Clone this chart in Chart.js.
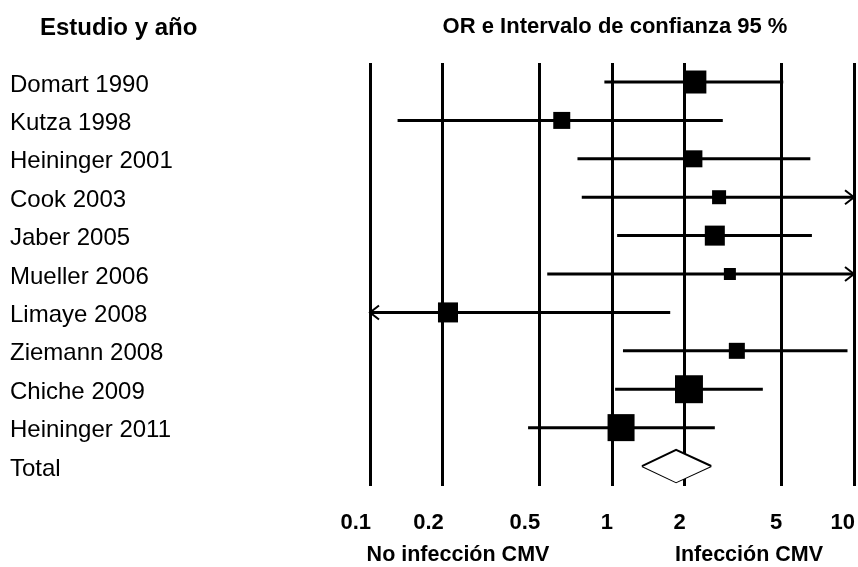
<!DOCTYPE html>
<html>
<head>
<meta charset="utf-8">
<script src="https://cdn.jsdelivr.net/npm/chart.js"></script>
<style>
	html, body { margin: 0; padding: 0; background: #ffffff; }
</style>
</head>
<body>
<canvas id="forestChart" width="858" height="567"></canvas>
<script>

var studies = ['Domart 1990', 'Kutza 1998', 'Heininger 2001', 'Cook 2003', 'Jaber 2005',
	'Mueller 2006', 'Limaye 2008', 'Ziemann 2008', 'Chiche 2009', 'Heininger 2011'];
var oddsRatio = [2.20, 0.62, 2.18, 2.77, 2.66, 3.07, 0.21, 3.28, 2.08, 1.09];
var ciLower = [0.93, 0.13, 0.72, 0.75, 1.05, 0.54, 0.08, 1.11, 1.03, 0.45];
var ciUpper = [5.10, 2.87, 6.60, 11.0, 6.70, 12.0, 1.74, 9.40, 4.20, 2.66];
var weights = [13.2, 7.2, 7.2, 4.9, 10.0, 3.6, 10.0, 6.4, 19.5, 18.2];

var totalLabel = 'Total';
var totalOR = 1.84;
var totalLower = 1.33;
var totalUpper = 2.57;

var xTicks = [0.1, 0.2, 0.5, 1, 2, 5, 10];
var rowLabels = studies.concat([totalLabel]);

var totalRow = rowLabels.length;
var diamondHalf = 0.42;

var datasets = [];

// squares, size from study weight
datasets.push({
	type: 'scatter',
	label: 'OR',
	data: studies.map(function(s, i) { return { x: oddsRatio[i], y: i + 1 }; }),
	pointStyle: 'rect',
	pointRadius: weights.map(function(w) { return Math.sqrt(w) * 6.33 / Math.SQRT2; }),
	backgroundColor: '#000000',
	borderWidth: 0,
	order: 0
});

// total diamond: upper half filled down to lower half
datasets.push({
	type: 'line',
	label: 'Total top',
	data: [
		{ x: totalLower, y: totalRow },
		{ x: totalOR, y: totalRow - diamondHalf },
		{ x: totalUpper, y: totalRow }
	],
	borderColor: '#000000',
	borderWidth: 2,
	backgroundColor: '#ffffff',
	fill: '+1',
	pointRadius: 0,
	tension: 0,
	order: 1
});
datasets.push({
	type: 'line',
	label: 'Total bottom',
	data: [
		{ x: totalLower, y: totalRow },
		{ x: totalOR, y: totalRow + diamondHalf },
		{ x: totalUpper, y: totalRow }
	],
	borderColor: '#000000',
	borderWidth: 2,
	fill: false,
	pointRadius: 0,
	tension: 0,
	order: 1
});

// confidence intervals
for (var i = 0; i < studies.length; i++) {
	datasets.push({
		type: 'line',
		label: studies[i],
		data: [{ x: ciLower[i], y: i + 1 }, { x: ciUpper[i], y: i + 1 }],
		borderColor: '#000000',
		borderWidth: 3,
		pointRadius: 0,
		fill: false,
		order: 2
	});
}

var arrowPlugin = {
	id: 'ciArrows',
	afterDatasetsDraw: function(chart) {
		var ctx = chart.ctx;
		var xs = chart.scales.x;
		var ys = chart.scales.y;

		function chevron(x, y, dir) {
			ctx.beginPath();
			ctx.moveTo(x + dir * 9, y - 7);
			ctx.lineTo(x, y);
			ctx.lineTo(x + dir * 9, y + 7);
			ctx.stroke();
		}

		ctx.save();
		ctx.strokeStyle = '#000000';
		ctx.lineWidth = 2;
		for (var i = 0; i < studies.length; i++) {
			var y = ys.getPixelForValue(i + 1);
			if (ciUpper[i] > xs.max) chevron(xs.getPixelForValue(xs.max), y, -1);
			if (ciLower[i] < xs.min) chevron(xs.getPixelForValue(xs.min), y, 1);
		}
		ctx.restore();
	}
};

var headerPlugin = {
	id: 'headers',
	afterDraw: function(chart) {
		var ctx = chart.ctx;
		ctx.save();
		ctx.fillStyle = '#000000';
		ctx.textBaseline = 'alphabetic';

		ctx.font = 'bold 24px "Liberation Sans", Arial, sans-serif';
		ctx.textAlign = 'left';
		ctx.fillText('Estudio y año', 40, 35);

		ctx.font = 'bold 22px "Liberation Sans", Arial, sans-serif';
		ctx.textAlign = 'center';
		ctx.fillText('OR e Intervalo de confianza 95 %', 615, 33);
		ctx.font = 'bold 21.5px "Liberation Sans", Arial, sans-serif';
		ctx.fillText('No infección CMV', 458, 561);
		ctx.fillText('Infección CMV', 749, 561);
		ctx.restore();
	}
};

var ctx = document.getElementById('forestChart');

var forestChart = new Chart(ctx, {
	type: 'scatter',
	data: { datasets: datasets },
	plugins: [arrowPlugin, headerPlugin],
	options: {
		responsive: false,
		animation: false,
		events: [],
		layout: { autoPadding: false, padding: { top: 63, left: 10, right: 4, bottom: 0 } },
		plugins: {
			legend: { display: false },
			tooltip: { enabled: false }
		},
		scales: {
			x: {
				type: 'logarithmic',
				min: 0.1,
				max: 10,
				afterBuildTicks: function(scale) {
					scale.ticks = xTicks.map(function(v) { return { value: v }; });
				},
				afterFit: function(scale) {
					scale.height = 81;
					scale.paddingLeft = 0;
					scale.paddingRight = 0;
				},
				grid: { color: '#000000', lineWidth: 3, drawTicks: true, tickLength: 24, tickColor: 'rgba(0,0,0,0)' },
				border: { display: false },
				ticks: {
					padding: 0,
					align: 'end',
					labelOffset: 1,
					color: '#000000',
					font: { family: '"Liberation Sans", Arial, sans-serif', size: 22, weight: 'bold' },
					callback: function(value) { return String(value); }
				}
			},
			y: {
				type: 'linear',
				reverse: true,
				min: 0.505,
				max: 11.52,
				afterBuildTicks: function(scale) {
					scale.ticks = rowLabels.map(function(l, i) { return { value: i + 1 }; });
				},
				afterFit: function(scale) {
					scale.width = 360;
					scale.paddingTop = 0;
					scale.paddingBottom = 0;
				},
				grid: { display: false },
				border: { display: false },
				ticks: {
					crossAlign: 'far',
					labelOffset: 3,
					color: '#000000',
					font: { family: '"Liberation Sans", Arial, sans-serif', size: 24 },
					callback: function(value) { return rowLabels[Math.round(value) - 1]; }
				}
			}
		}
	}
});

</script>
</body>
</html>
